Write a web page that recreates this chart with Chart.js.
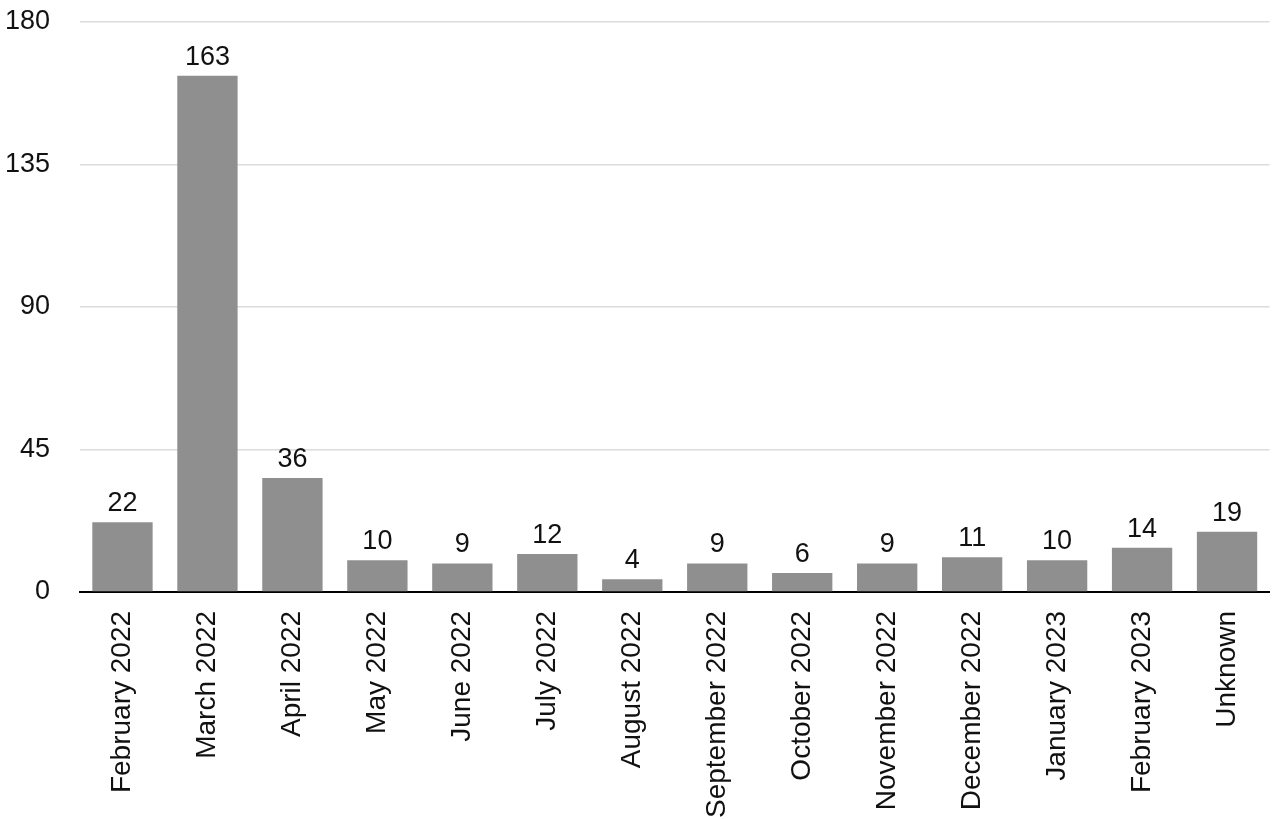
<!DOCTYPE html>
<html>
<head>
<meta charset="utf-8">
<script src="https://cdn.jsdelivr.net/npm/chart.js@4"></script>
<style>
  html, body { margin: 0; padding: 0; background: #fff; }
  #wrap { width: 1280px; height: 819px; }
</style>
</head>
<body>
<div id="wrap"><canvas id="chart"></canvas></div>
<script>
const months = [
  "February 2022", "March 2022", "April 2022", "May 2022", "June 2022",
  "July 2022", "August 2022", "September 2022", "October 2022",
  "November 2022", "December 2022", "January 2023", "February 2023", "Unknown",
];
const counts = [22, 163, 36, 10, 9, 12, 4, 9, 6, 9, 11, 10, 14, 19];
const yTicks = [0, 45, 90, 135, 180];

const fontFamily = "'Liberation Sans', Arial, Helvetica, sans-serif";

// draws the value above each bar
const valueLabels = {
  id: "valueLabels",
  afterDatasetsDraw(chart) {
    const ctx = chart.ctx;
    const meta = chart.getDatasetMeta(0);
    ctx.save();
    ctx.font = "27px " + fontFamily;
    ctx.fillStyle = "#111";
    ctx.textAlign = "center";
    ctx.textBaseline = "alphabetic";
    meta.data.forEach((bar, i) => {
      ctx.fillText(String(counts[i]), bar.x, bar.y - 11);
    });
    ctx.restore();
  },
};

new Chart(document.getElementById("chart"), {
  type: "bar",
  data: {
    labels: months,
    datasets: [{
      data: counts,
      backgroundColor: "#8f8f8f",
      borderWidth: 0,
      barPercentage: 0.71,
      categoryPercentage: 1,
    }],
  },
  options: {
    responsive: true,
    maintainAspectRatio: false,
    animation: false,
    layout: { padding: { top: 0, right: 10, left: 0, bottom: -18 } },
    plugins: {
      legend: { display: false },
      tooltip: { enabled: false },
    },
    scales: {
      x: {
        grid: { display: false, drawTicks: false },
        border: { display: true, color: "#000", width: 2 },
        ticks: {
          color: "#111",
          font: { family: fontFamily, size: 28 },
          maxRotation: 90,
          minRotation: 90,
          padding: 19,
          autoSkip: false,
        },
      },
      y: {
        min: 0,
        max: 180,
        afterBuildTicks(axis) {
          axis.ticks = yTicks.map((v) => ({ value: v }));
        },
        afterFit(axis) {
          axis.width = 80;
          axis.paddingTop = 22;
          axis.paddingBottom = 0;
        },
        grid: { color: "#dcdcdc", lineWidth: 1.5, drawTicks: false },
        border: { display: false },
        ticks: {
          color: "#111",
          font: { family: fontFamily, size: 27 },
          padding: 30,
        },
      },
    },
  },
  plugins: [valueLabels],
});
</script>
</body>
</html>
